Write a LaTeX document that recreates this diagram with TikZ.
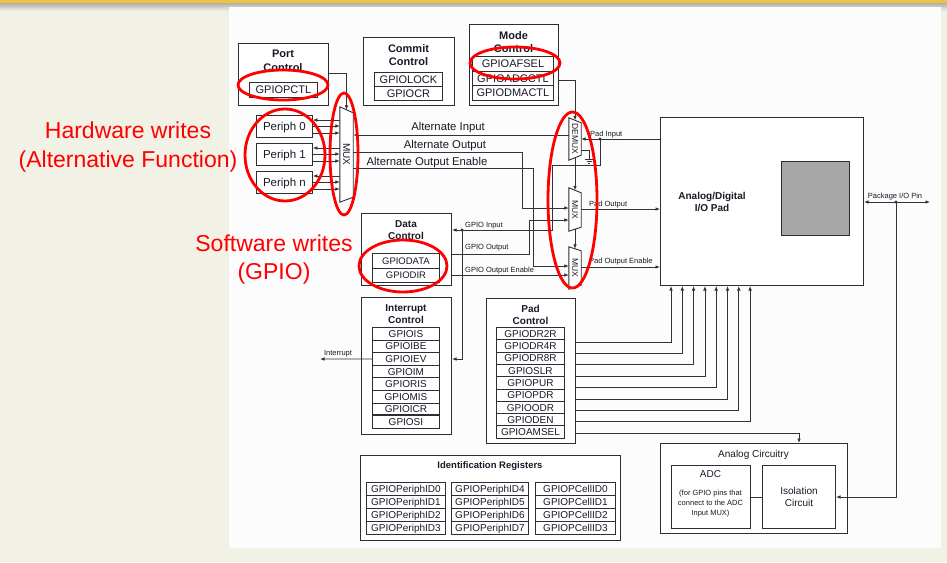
\documentclass[tikz,border=0pt]{standalone}
\usepackage{fontspec}
\setmainfont{Liberation Sans}
\usepackage{graphicx}
\usepackage{xcolor}
\definecolor{slidebg}{RGB}{242,241,230}
\definecolor{panelbg}{RGB}{252,252,252}
\definecolor{bandgold}{RGB}{239,194,64}
\definecolor{wirec}{RGB}{50,50,55}
\definecolor{boxc}{RGB}{45,45,50}
\definecolor{txtc}{RGB}{25,25,40}
\definecolor{padgray}{RGB}{166,166,166}
\definecolor{markred}{RGB}{255,0,0}
\usetikzlibrary{arrows.meta,shapes.geometric}

\begin{document}
\begin{tikzpicture}[x=1pt, y=-1pt,
    grp/.style={draw=boxc, line width=1pt, fill=white, inner sep=0pt,
                anchor=north west},
    ttl/.style={font=\bfseries\fontsize{11}{13.5}\selectfont, text=txtc,
                align=center, inner sep=0pt},
    ttls/.style={font=\bfseries\fontsize{10}{12}\selectfont, text=txtc,
                 align=center, inner sep=0pt},
    reg/.style={draw=boxc, line width=0.9pt, fill=white, inner sep=0pt,
                anchor=north west, text=txtc, font=\fontsize{11}{11}\selectfont,
                text height=7.9pt, text depth=0pt},
    regs/.style={reg, font=\fontsize{10}{10}\selectfont, text height=7.2pt},
    muxb/.style={inner sep=0pt, text=txtc, font=\fontsize{8.5}{8.5}\selectfont},
    muxline/.style={draw=boxc, line width=0.9pt, fill=white},
    wire/.style={draw=wirec, line width=0.8pt},
    arr/.style={wire, -{Latex[length=4.5pt,width=3.6pt]}},
    arrl/.style={wire, {Latex[length=4.5pt,width=3.6pt]}-},
    arrb/.style={wire, {Latex[length=4.5pt,width=3.6pt]}-{Latex[length=4.5pt,width=3.6pt]}},
    lbl/.style={font=\fontsize{11.3}{12}\selectfont, text=txtc, inner sep=0pt,
                text height=8.1pt, text depth=0pt},
    lbls/.style={font=\fontsize{7.5}{8}\selectfont, text=txtc, inner sep=0pt,
                 anchor=west, text height=5.4pt, text depth=0pt},
    ring/.style={draw=markred, line width=2.8pt, ellipse, inner sep=0pt},
    note/.style={text=markred, font=\fontsize{23}{28.5}\selectfont,
                 align=center, inner sep=0pt},
]

% --- BACKGROUND ---
\useasboundingbox (0,0) rectangle (947,562);
\fill[slidebg] (0,0) rectangle (947,562);
\shade[top color=black!35, bottom color=slidebg] (0,2) rectangle (947,11);
\fill[panelbg] (229,7) rectangle (941,548);
\fill[bandgold] (0,0) rectangle (947,2.5);

% --- NODES ---
% top control groups
\node[grp, minimum width=90pt, minimum height=62pt] (portC) at (238,43) {};
\node[ttl] (portT) at (283,61) {Port\\Control};
\node[reg, minimum width=68pt, minimum height=15pt] (pctl) at (249,82) {GPIOPCTL};

\node[grp, minimum width=91pt, minimum height=68pt] (commitC) at (363,37) {};
\node[ttl] (commitT) at (408.5,55) {Commit\\Control};
\node[reg, minimum width=68pt, minimum height=14pt] (lock) at (374,72) {GPIOLOCK};
\node[reg, minimum width=68pt, minimum height=14pt] (cr) at (374,86) {GPIOCR};

\node[grp, minimum width=89pt, minimum height=81pt] (modeC) at (469,24) {};
\node[ttl] (modeT) at (513.5,42) {Mode\\Control};
\node[reg, minimum width=81pt, minimum height=14.5pt] (afsel) at (472,56) {GPIOAFSEL};
\node[reg, minimum width=81pt, minimum height=14.5pt] (adcctl) at (472,70.5) {GPIOADCCTL};
\node[reg, minimum width=81pt, minimum height=14.5pt] (dmactl) at (472,85) {GPIODMACTL};

% peripherals
\foreach \n/\t/\y in {per0/Periph 0/115, per1/Periph 1/143, pern/Periph n/171}
  \node[reg, font=\fontsize{11.5}{11.5}\selectfont, text height=8.3pt,
        minimum width=56pt, minimum height=22pt] (\n) at (256,\y) {\t};

% multiplexers
\node[muxb, font=\fontsize{10}{10}\selectfont, minimum width=13pt,
      minimum height=95pt] (muxA) at (346.5,154.5) {};
\node[muxb, minimum width=12pt, minimum height=42pt] (demux) at (575,139) {};
\node[muxb, minimum width=12pt, minimum height=43pt] (muxO) at (575,209.5) {};
\node[muxb, minimum width=12pt, minimum height=42pt] (muxOE) at (575,268) {};
\foreach \m/\a/\b in {muxA/6/5, demux/5/5, muxO/5/4, muxOE/4/4}
  \draw[muxline] (\m.north west) -- ([yshift=-\a pt]\m.north east)
      -- ([yshift=\b pt]\m.south east) -- (\m.south west) -- cycle;
\node[muxb, font=\fontsize{10}{10}\selectfont] (muxAT) at (muxA) {\rotatebox{-90}{MUX}};
\node[muxb] (demuxT) at (demux) {\rotatebox{-90}{DEMUX}};
\node[muxb] (muxOT) at (muxO) {\rotatebox{-90}{MUX}};
\node[muxb] (muxOET) at (muxOE) {\rotatebox{-90}{MUX}};

% pad
\node[grp, minimum width=203pt, minimum height=168pt] (ioPad) at (660,117) {};
\node[ttls] (ioPadT) at (712,202) {Analog/Digital\\I/O Pad};
\node[draw=boxc, line width=0.9pt, fill=padgray, anchor=north west, inner sep=0pt,
      minimum width=68pt, minimum height=74pt] (padCore) at (781,161) {};

% data control
\node[grp, minimum width=90pt, minimum height=72pt] (dataC) at (361,213) {};
\node[ttls] (dataT) at (406,230) {Data\\Control};
\node[regs, font=\fontsize{9.5}{9.5}\selectfont, text height=6.8pt,
      minimum width=67pt, minimum height=14.5pt] (gdata) at (372,253) {GPIODATA};
\node[regs, font=\fontsize{9.5}{9.5}\selectfont, text height=6.8pt,
      minimum width=67pt, minimum height=14.5pt] (gdir) at (372,267.5) {GPIODIR};

% interrupt control
\node[grp, minimum width=90pt, minimum height=137pt] (intC) at (361,297) {};
\node[ttls] (intT) at (406,314) {Interrupt\\Control};
\foreach \r [count=\i from 0] in {GPIOIS,GPIOIBE,GPIOIEV,GPIOIM,GPIORIS,GPIOMIS,GPIOICR,GPIOSI}
  \node[regs, minimum width=67pt, minimum height=12.6pt] (int\i) at (372,{327+12.6*\i}) {\r};
\draw[boxc, line width=1.8pt] (int7.north west) -- (int7.north east);

% pad control
\node[grp, minimum width=89pt, minimum height=145pt] (padC) at (486,298) {};
\node[ttls] (padT) at (530.5,315) {Pad\\Control};
\foreach \r [count=\i from 0] in {GPIODR2R,GPIODR4R,GPIODR8R,GPIOSLR,GPIOPUR,GPIOPDR,GPIOODR,GPIODEN,GPIOAMSEL}
  \node[regs, minimum width=68pt, minimum height=12.3pt] (pad\i) at (496,{327+12.3*\i}) {\r};

% identification registers
\node[grp, minimum width=260pt, minimum height=85pt] (idC) at (360,455) {};
\node[ttls, font=\bfseries\fontsize{9.5}{10}\selectfont] (idT) at (490,466) {Identification Registers};
\foreach \j [evaluate=\j as \k using int(\j+4)] in {0,...,3} {
  \node[regs, minimum width=79pt, minimum height=12.9pt] (pidA\j) at (366,{482+12.9*\j}) {GPIOPeriphID\j};
  \node[regs, minimum width=77pt, minimum height=12.9pt] (pidB\j) at (451,{482+12.9*\j}) {GPIOPeriphID\k};
  \node[regs, minimum width=80pt, minimum height=12.9pt] (cid\j) at (535,{482+12.9*\j}) {GPIOPCellID\j};
}

% analog circuitry
\node[grp, minimum width=187pt, minimum height=90pt] (anaC) at (660,443) {};
\node[lbl, font=\fontsize{10}{10}\selectfont, text height=7.2pt] (anaT) at (753.5,454) {Analog Circuitry};
\node[grp, minimum width=79pt, minimum height=63pt] (adc) at (671,465) {};
\node[lbl, font=\fontsize{10}{10}\selectfont, text height=7.2pt] (adcT) at (710.5,474) {ADC};
\node[lbls, anchor=center, align=center, font=\fontsize{7.5}{9.8}\selectfont,
      text height=, text depth=] (adcN) at (710.5,503.5)
      {(for GPIO pins that\\connect to the ADC\\Input MUX)};
\node[grp, minimum width=73pt, minimum height=63pt, align=center, text=txtc,
      font=\fontsize{10}{12}\selectfont] (iso) at (762,465) {Isolation\\Circuit};

% line labels
\node[lbl] (altInL) at (448,126) {Alternate Input};
\node[lbl] (altOutL) at (445,144) {Alternate Output};
\node[lbl] (altOEL) at (427,161) {Alternate Output Enable};
\node[lbls] (padInL) at (590,134) {Pad Input};
\node[lbls] (padOutL) at (589,204) {Pad Output};
\node[lbls] (padOEL) at (589,261) {Pad Output Enable};
\node[lbls] (gInL) at (465,225) {GPIO Input};
\node[lbls] (gOutL) at (465,247) {GPIO Output};
\node[lbls] (gOEL) at (465,270) {GPIO Output Enable};
\node[lbls, anchor=center] (pinL) at (895,196) {Package I/O Pin};
\node[lbls, anchor=center] (irqL) at (338,353) {Interrupt};

\coordinate (gnd) at (589,159);
\coordinate (padJ) at (600,139);
\coordinate (gpiJ) at (462,230);
\coordinate (pinJ) at (896,202);
\coordinate (pin) at (930,202);
\coordinate (irq) at (320,359);

% --- ARROWS ---
\draw[arr] (portC.east |- 0,73) -| ([yshift=-3pt]muxA.north);
\foreach \n/\y in {per0/115, per1/143, pern/171} {
  \draw[arrl] (\n.east |- 0,\y+5) -- (muxA.west |- 0,\y+5);
  \draw[arr] (\n.east |- 0,\y+11) -- (muxA.west |- 0,\y+11);
  \draw[arr] (\n.east |- 0,\y+18) -- (muxA.west |- 0,\y+18);
}

\draw[arr] (demux.west |- 0,135) -- (muxA.east |- 0,135);
\draw[arr] (muxA.east |- 0,152) -- ++(169,0) |- (muxO.west |- 0,208);
\draw[arr] (muxA.east |- 0,168) -- ++(180,0) |- (muxOE.west |- 0,266);

% select chain
\draw[arr] (modeC.east |- 0,80) -| ([yshift=-2.5pt]demux.north);
\draw[arr] ([yshift=2.5pt]demux.south) -- ([yshift=-2.5pt]muxO.north);
\draw[arr] ([yshift=2pt]muxO.south) -- ([yshift=-2pt]muxOE.north);

% pad side
\draw[arr] (ioPad.west |- 0,139) -- (demux.east |- 0,139);
\draw[wire] (demux.east |- 0,150) -| (gnd);
\draw[wire] ([xshift=-4pt]gnd) -- ([xshift=4pt]gnd)
            ([xshift=-2.5pt,yshift=-2pt]gnd) -- ([xshift=2.5pt,yshift=-2pt]gnd)
            ([xshift=-1pt,yshift=-4pt]gnd) -- ([xshift=1pt,yshift=-4pt]gnd);
\draw[arr] (padJ) -- ++(0,26) -- ++(-48,0) |- (dataC.east |- 0,230);
\draw[arr] (gpiJ) |- (intC.east |- 0,359);
\draw[arr] (int2.west) -- (irq);
\draw[arr] (dataC.east |- 0,254) -- ++(77,0) |- (muxO.west |- 0,220);
\draw[arr] (dataC.east |- 0,275) -- (muxOE.west |- 0,275);
\draw[arr] (muxO.east |- 0,209) -- (ioPad.west |- 0,209);
\draw[arr] (muxOE.east |- 0,267) -- (ioPad.west |- 0,267);

% pad control to pad
\foreach \k [evaluate=\k as \yy using 342+11.4*\k,
             evaluate=\k as \xx using 671+11.3*\k] in {0,...,7}
  \draw[arr] (padC.east |- 0,\yy) -| (ioPad.south -| \xx,0);
\draw[arr] (padC.east |- 0,433) -| (iso.north |- anaC.north);

% package pin
\draw[arrb] (ioPad.east |- 0,202) -- (pin);
\draw[arr] (pinJ) |- (iso.east);
\draw[wire] (adc.east) -- (iso.west);

\foreach \c in {padJ,gpiJ,pinJ}
  \fill[wirec] (\c) circle (1.6pt);

% --- ANNOTATIONS ---
\node[ring, minimum width=90pt, minimum height=30pt] (ringPort) at (283,85) {};
\node[ring, minimum width=90pt, minimum height=32pt] (ringMode) at (515,63) {};
\node[ring, minimum width=80pt, minimum height=92pt] (ringPer) at (285,155) {};
\node[ring, minimum width=28pt, minimum height=122pt] (ringMux) at (344,154) {};
\node[ring, minimum width=49pt, minimum height=176pt] (ringSel) at (572.5,200) {};
\node[ring, minimum width=88pt, minimum height=52pt] (ringData) at (403,266) {};

\node[note] (hwNote) at (128,147) {Hardware writes\\(Alternative Function)};
\node[note] (swNote) at (274,259.5) {Software writes\\(GPIO)};

\end{tikzpicture}
\end{document}
